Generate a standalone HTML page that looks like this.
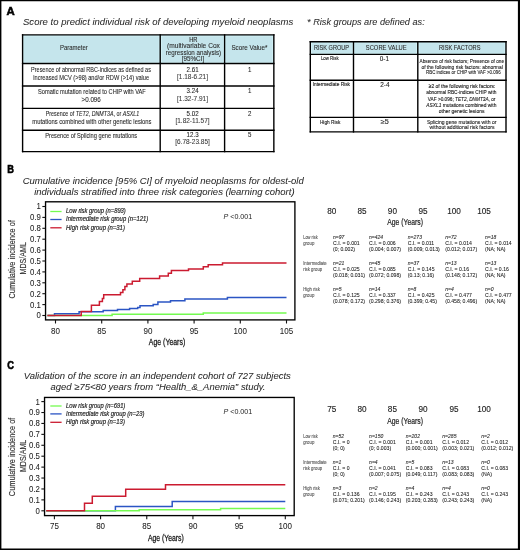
<!DOCTYPE html>
<html><head><meta charset="utf-8"><style>
html,body{margin:0;padding:0;background:#fff;}
body{width:520px;height:550px;overflow:hidden;position:relative;}
svg{position:absolute;left:0;top:0;display:block;will-change:transform;}
text{font-family:"Liberation Sans",sans-serif;}
</style></head><body>
<svg width="520" height="550" viewBox="0 0 520 550">
<rect x="0" y="0" width="520" height="550" fill="#fff"/>
<text x="6.50" y="15.00" font-size="10.2" font-weight="bold" fill="#000" stroke="#000" stroke-width="0.5" textLength="8.20" lengthAdjust="spacingAndGlyphs">A</text>
<text x="7.20" y="173.10" font-size="11" font-weight="bold" fill="#000" stroke="#000" stroke-width="0.55" textLength="6.70" lengthAdjust="spacingAndGlyphs">B</text>
<text x="7.20" y="368.50" font-size="11.5" font-weight="bold" fill="#000" stroke="#000" stroke-width="0.6" textLength="6.70" lengthAdjust="spacingAndGlyphs">C</text>
<text x="23.00" y="25.20" font-size="9.3" font-style="italic" fill="#2a2a2a" stroke="#2a2a2a" stroke-width="0.05" textLength="270.30" lengthAdjust="spacingAndGlyphs">Score to predict individual risk of developing myeloid neoplasms</text>
<text x="307.10" y="25.10" font-size="9.3" font-style="italic" fill="#2a2a2a" stroke="#2a2a2a" stroke-width="0.05" textLength="117.60" lengthAdjust="spacingAndGlyphs">* Risk groups are defined as:</text>
<rect x="22.6" y="34.9" width="251.25000000000003" height="28.6" fill="#c5e5ec"/>
<rect x="23.70" y="36.00" width="135.40" height="26.40" fill="none" stroke="#d8f6fa" stroke-width="0.7"/>
<rect x="161.30" y="36.00" width="62.20" height="26.40" fill="none" stroke="#d8f6fa" stroke-width="0.7"/>
<rect x="225.70" y="36.00" width="47.05" height="26.40" fill="none" stroke="#d8f6fa" stroke-width="0.7"/>
<line x1="22.6" y1="34.199999999999996" x2="22.6" y2="152.29999999999998" stroke="#000" stroke-width="1.4"/>
<line x1="160.2" y1="34.199999999999996" x2="160.2" y2="152.29999999999998" stroke="#000" stroke-width="1.4"/>
<line x1="224.6" y1="34.199999999999996" x2="224.6" y2="152.29999999999998" stroke="#000" stroke-width="1.4"/>
<line x1="273.85" y1="34.199999999999996" x2="273.85" y2="152.29999999999998" stroke="#000" stroke-width="1.4"/>
<line x1="21.900000000000002" y1="34.9" x2="274.55" y2="34.9" stroke="#000" stroke-width="1.4"/>
<line x1="21.900000000000002" y1="63.5" x2="274.55" y2="63.5" stroke="#000" stroke-width="1.4"/>
<line x1="21.900000000000002" y1="86.0" x2="274.55" y2="86.0" stroke="#000" stroke-width="1.4"/>
<line x1="21.900000000000002" y1="108.4" x2="274.55" y2="108.4" stroke="#000" stroke-width="1.4"/>
<line x1="21.900000000000002" y1="130.3" x2="274.55" y2="130.3" stroke="#000" stroke-width="1.4"/>
<line x1="21.900000000000002" y1="151.6" x2="274.55" y2="151.6" stroke="#000" stroke-width="1.4"/>
<text x="59.90" y="50.30" font-size="6.8" fill="#2a2a2a" stroke="#2a2a2a" stroke-width="0.08" textLength="27.90" lengthAdjust="spacingAndGlyphs">Parameter</text>
<text x="189.20" y="41.90" font-size="6.4" fill="#2a2a2a" stroke="#2a2a2a" stroke-width="0.12" textLength="8.30" lengthAdjust="spacingAndGlyphs">HR</text>
<text x="167.00" y="48.10" font-size="6.5" fill="#2a2a2a" stroke="#2a2a2a" stroke-width="0.08" textLength="52.90" lengthAdjust="spacingAndGlyphs">(multivariable Cox</text>
<text x="165.80" y="54.60" font-size="6.5" fill="#2a2a2a" stroke="#2a2a2a" stroke-width="0.08" textLength="55.30" lengthAdjust="spacingAndGlyphs">regression analysis)</text>
<text x="181.70" y="60.90" font-size="6.5" fill="#2a2a2a" stroke="#2a2a2a" stroke-width="0.08" textLength="22.50" lengthAdjust="spacingAndGlyphs">[95%CI]</text>
<text x="231.40" y="50.40" font-size="6.6" fill="#2a2a2a" stroke="#2a2a2a" stroke-width="0.08" textLength="36.10" lengthAdjust="spacingAndGlyphs">Score Value*</text>
<text x="31.10" y="71.80" font-size="7.4" fill="#1e1e1e" stroke="#1e1e1e" stroke-width="0.08" textLength="119.80" lengthAdjust="spacingAndGlyphs">Presence of abnormal RBC-indices as defined as</text>
<text x="33.30" y="79.90" font-size="7.4" fill="#1e1e1e" stroke="#1e1e1e" stroke-width="0.08" textLength="115.80" lengthAdjust="spacingAndGlyphs">increased MCV (&gt;98) and/or RDW (&gt;14) value</text>
<text x="38.00" y="93.80" font-size="7.4" fill="#1e1e1e" stroke="#1e1e1e" stroke-width="0.08" textLength="107.80" lengthAdjust="spacingAndGlyphs">Somatic mutation related to CHIP with VAF</text>
<text x="81.60" y="101.80" font-size="7.4" fill="#1e1e1e" stroke="#1e1e1e" stroke-width="0.08" textLength="19.20" lengthAdjust="spacingAndGlyphs">&gt;0.096</text>
<text x="45.80" y="115.80" font-size="7.4" fill="#1e1e1e" stroke="#1e1e1e" stroke-width="0.08" textLength="93.50" lengthAdjust="spacingAndGlyphs">Presence of <tspan font-style="italic">TET2</tspan>, <tspan font-style="italic">DNMT3A</tspan>, or <tspan font-style="italic">ASXL1</tspan></text>
<text x="32.30" y="124.30" font-size="7.4" fill="#1e1e1e" stroke="#1e1e1e" stroke-width="0.08" textLength="119.20" lengthAdjust="spacingAndGlyphs">mutations combined with other genetic lesions</text>
<text x="45.30" y="137.60" font-size="7.4" fill="#1e1e1e" stroke="#1e1e1e" stroke-width="0.08" textLength="91.90" lengthAdjust="spacingAndGlyphs">Presence of Splicing gene mutations</text>
<text x="186.60" y="72.00" font-size="6.7" fill="#1e1e1e" stroke="#1e1e1e" stroke-width="0.08" textLength="12.00" lengthAdjust="spacingAndGlyphs">2.61</text>
<text x="186.60" y="93.00" font-size="6.7" fill="#1e1e1e" stroke="#1e1e1e" stroke-width="0.08" textLength="12.00" lengthAdjust="spacingAndGlyphs">3.24</text>
<text x="186.60" y="116.00" font-size="6.7" fill="#1e1e1e" stroke="#1e1e1e" stroke-width="0.08" textLength="12.00" lengthAdjust="spacingAndGlyphs">5.02</text>
<text x="186.60" y="137.10" font-size="6.7" fill="#1e1e1e" stroke="#1e1e1e" stroke-width="0.08" textLength="12.00" lengthAdjust="spacingAndGlyphs">12.3</text>
<text x="176.99" y="79.30" font-size="6.9" fill="#3a3a3a" stroke="#3a3a3a" stroke-width="0.08" textLength="31.01" lengthAdjust="spacingAndGlyphs">[1.18-6.21]</text>
<text x="176.99" y="101.00" font-size="6.9" fill="#3a3a3a" stroke="#3a3a3a" stroke-width="0.08" textLength="31.01" lengthAdjust="spacingAndGlyphs">[1.32-7.91]</text>
<text x="175.43" y="122.80" font-size="6.9" fill="#3a3a3a" stroke="#3a3a3a" stroke-width="0.08" textLength="34.14" lengthAdjust="spacingAndGlyphs">[1.82-11.57]</text>
<text x="175.19" y="144.20" font-size="6.9" fill="#3a3a3a" stroke="#3a3a3a" stroke-width="0.08" textLength="34.62" lengthAdjust="spacingAndGlyphs">[6.78-23.85]</text>
<text x="247.89" y="72.00" font-size="6.7" fill="#1e1e1e" stroke="#1e1e1e" stroke-width="0.08" textLength="3.43" lengthAdjust="spacingAndGlyphs">1</text>
<text x="247.89" y="93.00" font-size="6.7" fill="#1e1e1e" stroke="#1e1e1e" stroke-width="0.08" textLength="3.43" lengthAdjust="spacingAndGlyphs">1</text>
<text x="247.89" y="116.00" font-size="6.7" fill="#1e1e1e" stroke="#1e1e1e" stroke-width="0.08" textLength="3.43" lengthAdjust="spacingAndGlyphs">2</text>
<text x="247.89" y="137.10" font-size="6.7" fill="#1e1e1e" stroke="#1e1e1e" stroke-width="0.08" textLength="3.43" lengthAdjust="spacingAndGlyphs">5</text>
<rect x="310.3" y="41.7" width="195.7" height="12.699999999999996" fill="#c5e5ec"/>
<rect x="311.40" y="42.80" width="41.00" height="10.50" fill="none" stroke="#d8f6fa" stroke-width="0.7"/>
<rect x="354.60" y="42.80" width="62.10" height="10.50" fill="none" stroke="#d8f6fa" stroke-width="0.7"/>
<rect x="418.90" y="42.80" width="86.00" height="10.50" fill="none" stroke="#d8f6fa" stroke-width="0.7"/>
<line x1="310.3" y1="41.0" x2="310.3" y2="132.6" stroke="#000" stroke-width="1.4"/>
<line x1="353.5" y1="41.0" x2="353.5" y2="132.6" stroke="#000" stroke-width="1.4"/>
<line x1="417.8" y1="41.0" x2="417.8" y2="132.6" stroke="#000" stroke-width="1.4"/>
<line x1="506.0" y1="41.0" x2="506.0" y2="132.6" stroke="#000" stroke-width="1.4"/>
<line x1="309.6" y1="41.7" x2="506.7" y2="41.7" stroke="#000" stroke-width="1.4"/>
<line x1="309.6" y1="54.4" x2="506.7" y2="54.4" stroke="#000" stroke-width="1.4"/>
<line x1="309.6" y1="80.2" x2="506.7" y2="80.2" stroke="#000" stroke-width="1.4"/>
<line x1="309.6" y1="117.4" x2="506.7" y2="117.4" stroke="#000" stroke-width="1.4"/>
<line x1="309.6" y1="131.9" x2="506.7" y2="131.9" stroke="#000" stroke-width="1.4"/>
<text x="314.00" y="50.30" font-size="6.7" fill="#2a2a2a" stroke="#2a2a2a" stroke-width="0.08" textLength="35.00" lengthAdjust="spacingAndGlyphs">RISK GROUP</text>
<text x="365.80" y="50.30" font-size="6.7" fill="#2a2a2a" stroke="#2a2a2a" stroke-width="0.08" textLength="40.90" lengthAdjust="spacingAndGlyphs">SCORE VALUE</text>
<text x="439.00" y="50.30" font-size="6.7" fill="#2a2a2a" stroke="#2a2a2a" stroke-width="0.08" textLength="41.50" lengthAdjust="spacingAndGlyphs">RISK FACTORS</text>
<text x="320.90" y="60.00" font-size="6.0" fill="#1e1e1e" stroke="#1e1e1e" stroke-width="0.15" textLength="17.70" lengthAdjust="spacingAndGlyphs">Low Risk</text>
<text x="379.80" y="60.60" font-size="6.6" fill="#1e1e1e" stroke="#1e1e1e" stroke-width="0.1" textLength="9.20" lengthAdjust="spacingAndGlyphs">0-1</text>
<text x="419.60" y="63.00" font-size="6.1" fill="#1e1e1e" stroke="#1e1e1e" stroke-width="0.12" textLength="84.40" lengthAdjust="spacingAndGlyphs">Absence of risk factors; Presence of one</text>
<text x="421.40" y="68.60" font-size="6.1" fill="#1e1e1e" stroke="#1e1e1e" stroke-width="0.12" textLength="81.40" lengthAdjust="spacingAndGlyphs">of the following risk factors: abnormal</text>
<text x="426.00" y="74.20" font-size="6.1" fill="#1e1e1e" stroke="#1e1e1e" stroke-width="0.12" textLength="74.60" lengthAdjust="spacingAndGlyphs">RBC indices or CHIP with VAF &gt;0.096</text>
<text x="312.70" y="86.20" font-size="6.0" fill="#1e1e1e" stroke="#1e1e1e" stroke-width="0.15" textLength="37.30" lengthAdjust="spacingAndGlyphs">Intermediate Risk</text>
<text x="380.20" y="86.60" font-size="6.6" fill="#1e1e1e" stroke="#1e1e1e" stroke-width="0.1" textLength="9.30" lengthAdjust="spacingAndGlyphs">2-4</text>
<text x="428.70" y="88.30" font-size="6.1" fill="#1e1e1e" stroke="#1e1e1e" stroke-width="0.14" textLength="66.70" lengthAdjust="spacingAndGlyphs">≥2 of the following risk factors:</text>
<text x="426.30" y="94.40" font-size="6.1" fill="#1e1e1e" stroke="#1e1e1e" stroke-width="0.14" textLength="70.10" lengthAdjust="spacingAndGlyphs">abnormal RBC-indices CHIP with</text>
<text x="427.80" y="100.60" font-size="6.1" fill="#1e1e1e" stroke="#1e1e1e" stroke-width="0.14" textLength="67.60" lengthAdjust="spacingAndGlyphs">VAF &gt;0.096; <tspan font-style="italic">TET2</tspan>, <tspan font-style="italic">DNMT3A</tspan>, or</text>
<text x="426.30" y="107.00" font-size="6.1" fill="#1e1e1e" stroke="#1e1e1e" stroke-width="0.14" textLength="70.10" lengthAdjust="spacingAndGlyphs"><tspan font-style="italic">ASXL1</tspan> mutations combined with</text>
<text x="438.80" y="113.00" font-size="6.1" fill="#1e1e1e" stroke="#1e1e1e" stroke-width="0.14" textLength="45.70" lengthAdjust="spacingAndGlyphs">other genetic lesions</text>
<text x="319.90" y="123.70" font-size="6.0" fill="#1e1e1e" stroke="#1e1e1e" stroke-width="0.15" textLength="20.40" lengthAdjust="spacingAndGlyphs">High Risk</text>
<text x="380.80" y="124.00" font-size="6.6" fill="#1e1e1e" stroke="#1e1e1e" stroke-width="0.1" textLength="8.00" lengthAdjust="spacingAndGlyphs">≥5</text>
<text x="426.90" y="123.60" font-size="6.1" fill="#1e1e1e" stroke="#1e1e1e" stroke-width="0.12" textLength="69.50" lengthAdjust="spacingAndGlyphs">Splicing gene mutations with or</text>
<text x="429.60" y="129.20" font-size="6.1" fill="#1e1e1e" stroke="#1e1e1e" stroke-width="0.12" textLength="64.90" lengthAdjust="spacingAndGlyphs">without additional risk factors</text>
<text x="22.70" y="183.50" font-size="9.3" font-style="italic" fill="#2a2a2a" stroke="#2a2a2a" stroke-width="0.05" textLength="281.00" lengthAdjust="spacingAndGlyphs">Cumulative incidence [95% CI] of myeloid neoplasms for oldest-old</text>
<text x="34.20" y="194.80" font-size="9.3" font-style="italic" fill="#2a2a2a" stroke="#2a2a2a" stroke-width="0.05" textLength="260.40" lengthAdjust="spacingAndGlyphs">individuals stratified into three risk categories (learning cohort)</text>
<path d="M47.40 315.50 L54.50 315.50 L54.50 313.80 L79.10 313.80 L79.10 311.80 L103.20 311.80 L103.20 310.50 L117.50 310.50 L117.50 309.50 L129.60 309.50 L129.60 308.40 L137.70 308.40 L137.70 307.50 L140.00 307.50 L140.00 305.70 L153.20 305.70 L153.20 304.50 L157.90 304.50 L157.90 302.10 L170.50 302.10 L170.50 300.80 L184.90 300.80 L184.90 299.10 L227.40 299.10 L227.40 297.40 L286.50 297.40" fill="none" stroke="#2b55c4" stroke-width="1.5" stroke-linejoin="miter"/>
<path d="M47.40 315.50 L112.10 315.50 L112.10 314.20 L203.30 314.20 L203.30 312.90 L286.50 312.90" fill="none" stroke="#74fb50" stroke-width="1.5" stroke-linejoin="miter"/>
<path d="M47.40 315.50 L81.20 315.50 L81.20 311.50 L91.40 311.50 L91.40 305.20 L99.40 305.20 L99.40 301.40 L102.40 301.40 L102.40 298.40 L103.70 298.40 L103.70 294.70 L120.50 294.70 L120.50 292.40 L122.90 292.40 L122.90 289.70 L124.90 289.70 L124.90 286.60 L126.90 286.60 L126.90 283.90 L132.30 283.90 L132.30 281.20 L139.70 281.20 L139.70 278.60 L159.60 278.60 L159.60 275.90 L168.30 275.90 L168.30 273.20 L171.40 273.20 L171.40 270.50 L188.50 270.50 L188.50 269.10 L203.30 269.10 L203.30 266.70 L208.20 266.70 L208.20 264.70 L222.50 264.70 L222.50 263.10 L286.50 263.10" fill="none" stroke="#cb1b30" stroke-width="1.5" stroke-linejoin="miter"/>
<rect x="45.55" y="201.8" width="249.34999999999997" height="118.09999999999997" fill="none" stroke="#000" stroke-width="1.35"/>
<line x1="42.349999999999994" y1="315.5" x2="45.55" y2="315.5" stroke="#111" stroke-width="1.1"/>
<text x="36.61" y="318.45" font-size="8.4" fill="#222" stroke="#222" stroke-width="0.05" textLength="4.34" lengthAdjust="spacingAndGlyphs">0</text>
<line x1="42.349999999999994" y1="304.6" x2="45.55" y2="304.6" stroke="#111" stroke-width="1.1"/>
<text x="30.09" y="307.55" font-size="8.4" fill="#222" stroke="#222" stroke-width="0.05" textLength="10.86" lengthAdjust="spacingAndGlyphs">0.1</text>
<line x1="42.349999999999994" y1="293.7" x2="45.55" y2="293.7" stroke="#111" stroke-width="1.1"/>
<text x="30.09" y="296.65" font-size="8.4" fill="#222" stroke="#222" stroke-width="0.05" textLength="10.86" lengthAdjust="spacingAndGlyphs">0.2</text>
<line x1="42.349999999999994" y1="282.8" x2="45.55" y2="282.8" stroke="#111" stroke-width="1.1"/>
<text x="30.09" y="285.75" font-size="8.4" fill="#222" stroke="#222" stroke-width="0.05" textLength="10.86" lengthAdjust="spacingAndGlyphs">0.3</text>
<line x1="42.349999999999994" y1="271.9" x2="45.55" y2="271.9" stroke="#111" stroke-width="1.1"/>
<text x="30.09" y="274.85" font-size="8.4" fill="#222" stroke="#222" stroke-width="0.05" textLength="10.86" lengthAdjust="spacingAndGlyphs">0.4</text>
<line x1="42.349999999999994" y1="261.0" x2="45.55" y2="261.0" stroke="#111" stroke-width="1.1"/>
<text x="30.09" y="263.95" font-size="8.4" fill="#222" stroke="#222" stroke-width="0.05" textLength="10.86" lengthAdjust="spacingAndGlyphs">0.5</text>
<line x1="42.349999999999994" y1="250.1" x2="45.55" y2="250.1" stroke="#111" stroke-width="1.1"/>
<text x="30.09" y="253.05" font-size="8.4" fill="#222" stroke="#222" stroke-width="0.05" textLength="10.86" lengthAdjust="spacingAndGlyphs">0.6</text>
<line x1="42.349999999999994" y1="239.2" x2="45.55" y2="239.2" stroke="#111" stroke-width="1.1"/>
<text x="30.09" y="242.15" font-size="8.4" fill="#222" stroke="#222" stroke-width="0.05" textLength="10.86" lengthAdjust="spacingAndGlyphs">0.7</text>
<line x1="42.349999999999994" y1="228.3" x2="45.55" y2="228.3" stroke="#111" stroke-width="1.1"/>
<text x="30.09" y="231.25" font-size="8.4" fill="#222" stroke="#222" stroke-width="0.05" textLength="10.86" lengthAdjust="spacingAndGlyphs">0.8</text>
<line x1="42.349999999999994" y1="217.39999999999998" x2="45.55" y2="217.39999999999998" stroke="#111" stroke-width="1.1"/>
<text x="30.09" y="220.35" font-size="8.4" fill="#222" stroke="#222" stroke-width="0.05" textLength="10.86" lengthAdjust="spacingAndGlyphs">0.9</text>
<line x1="42.349999999999994" y1="206.5" x2="45.55" y2="206.5" stroke="#111" stroke-width="1.1"/>
<text x="36.61" y="209.45" font-size="8.4" fill="#222" stroke="#222" stroke-width="0.05" textLength="4.34" lengthAdjust="spacingAndGlyphs">1</text>
<line x1="55.5" y1="319.9" x2="55.5" y2="323.5" stroke="#111" stroke-width="1.1"/>
<text x="51.05" y="333.75" font-size="8.9" fill="#222" stroke="#222" stroke-width="0.05" textLength="8.91" lengthAdjust="spacingAndGlyphs">80</text>
<line x1="101.7" y1="319.9" x2="101.7" y2="323.5" stroke="#111" stroke-width="1.1"/>
<text x="97.25" y="333.75" font-size="8.9" fill="#222" stroke="#222" stroke-width="0.05" textLength="8.91" lengthAdjust="spacingAndGlyphs">85</text>
<line x1="147.9" y1="319.9" x2="147.9" y2="323.5" stroke="#111" stroke-width="1.1"/>
<text x="143.45" y="333.75" font-size="8.9" fill="#222" stroke="#222" stroke-width="0.05" textLength="8.91" lengthAdjust="spacingAndGlyphs">90</text>
<line x1="194.1" y1="319.9" x2="194.1" y2="323.5" stroke="#111" stroke-width="1.1"/>
<text x="189.65" y="333.75" font-size="8.9" fill="#222" stroke="#222" stroke-width="0.05" textLength="8.91" lengthAdjust="spacingAndGlyphs">95</text>
<line x1="240.3" y1="319.9" x2="240.3" y2="323.5" stroke="#111" stroke-width="1.1"/>
<text x="233.62" y="333.75" font-size="8.9" fill="#222" stroke="#222" stroke-width="0.05" textLength="13.36" lengthAdjust="spacingAndGlyphs">100</text>
<line x1="286.5" y1="319.9" x2="286.5" y2="323.5" stroke="#111" stroke-width="1.1"/>
<text x="279.82" y="333.75" font-size="8.9" fill="#222" stroke="#222" stroke-width="0.05" textLength="13.36" lengthAdjust="spacingAndGlyphs">105</text>
<text x="148.80" y="345.00" font-size="9.3" fill="#1a1a1a" stroke="#1a1a1a" stroke-width="0.3" textLength="36.40" lengthAdjust="spacingAndGlyphs">Age (Years)</text>
<line x1="50.3" y1="211.5" x2="61.6" y2="211.5" stroke="#74fb50" stroke-width="1.3"/>
<text x="66.10" y="213.40" font-size="7.5" font-style="italic" fill="#222" stroke="#222" stroke-width="0.2" textLength="59.70" lengthAdjust="spacingAndGlyphs">Low risk group (n=893)</text>
<line x1="50.3" y1="219.5" x2="61.6" y2="219.5" stroke="#2b55c4" stroke-width="1.3"/>
<text x="66.10" y="221.40" font-size="7.5" font-style="italic" fill="#222" stroke="#222" stroke-width="0.2" textLength="82.10" lengthAdjust="spacingAndGlyphs">Intermediate risk group (n=121)</text>
<line x1="50.3" y1="227.8" x2="61.6" y2="227.8" stroke="#cb1b30" stroke-width="1.3"/>
<text x="66.10" y="229.70" font-size="7.5" font-style="italic" fill="#222" stroke="#222" stroke-width="0.2" textLength="58.80" lengthAdjust="spacingAndGlyphs">High risk group (n=31)</text>
<text x="223.5" y="218.8" font-size="7" fill="#222" textLength="28.8" lengthAdjust="spacingAndGlyphs"><tspan font-style="italic">P</tspan> &lt;0.001</text>
<g transform="translate(15.0,259.3) rotate(-90)"><text x="0" y="0" font-size="9.8" fill="#333" stroke="#333" stroke-width="0.15" text-anchor="middle" textLength="78.5" lengthAdjust="spacingAndGlyphs">Cumulative incidence of</text></g>
<g transform="translate(25.8,258.3) rotate(-90)"><text x="0" y="0" font-size="9.4" fill="#333" stroke="#333" stroke-width="0.15" text-anchor="middle" textLength="32.4" lengthAdjust="spacingAndGlyphs">MDS/AML</text></g>
<text x="23.70" y="378.90" font-size="9.3" font-style="italic" fill="#2a2a2a" stroke="#2a2a2a" stroke-width="0.05" textLength="267.10" lengthAdjust="spacingAndGlyphs">Validation of the score in an independent cohort of 727 subjects</text>
<text x="50.60" y="390.00" font-size="9.3" font-style="italic" fill="#2a2a2a" stroke="#2a2a2a" stroke-width="0.05" textLength="214.80" lengthAdjust="spacingAndGlyphs">aged ≥75&lt;80 years from “Health_&amp;_Anemia” study.</text>
<path d="M46.20 510.80 L115.40 510.80 L115.40 506.40 L172.20 506.40 L172.20 501.60 L285.30 501.60" fill="none" stroke="#2b55c4" stroke-width="1.5" stroke-linejoin="miter"/>
<path d="M46.20 510.80 L139.20 510.80 L139.20 509.70 L220.60 509.70 L220.60 508.50 L285.30 508.50" fill="none" stroke="#74fb50" stroke-width="1.5" stroke-linejoin="miter"/>
<path d="M46.20 510.80 L84.50 510.80 L84.50 503.20 L92.30 503.20 L92.30 496.30 L125.70 496.30 L125.70 489.30 L165.50 489.30 L165.50 484.70 L285.30 484.70" fill="none" stroke="#cb1b30" stroke-width="1.5" stroke-linejoin="miter"/>
<rect x="44.55" y="397.45" width="249.64999999999998" height="118.15000000000003" fill="none" stroke="#000" stroke-width="1.35"/>
<line x1="41.349999999999994" y1="510.8" x2="44.55" y2="510.8" stroke="#111" stroke-width="1.1"/>
<text x="35.61" y="513.75" font-size="8.4" fill="#222" stroke="#222" stroke-width="0.05" textLength="4.34" lengthAdjust="spacingAndGlyphs">0</text>
<line x1="41.349999999999994" y1="499.88" x2="44.55" y2="499.88" stroke="#111" stroke-width="1.1"/>
<text x="29.09" y="502.83" font-size="8.4" fill="#222" stroke="#222" stroke-width="0.05" textLength="10.86" lengthAdjust="spacingAndGlyphs">0.1</text>
<line x1="41.349999999999994" y1="488.96000000000004" x2="44.55" y2="488.96000000000004" stroke="#111" stroke-width="1.1"/>
<text x="29.09" y="491.91" font-size="8.4" fill="#222" stroke="#222" stroke-width="0.05" textLength="10.86" lengthAdjust="spacingAndGlyphs">0.2</text>
<line x1="41.349999999999994" y1="478.04" x2="44.55" y2="478.04" stroke="#111" stroke-width="1.1"/>
<text x="29.09" y="480.99" font-size="8.4" fill="#222" stroke="#222" stroke-width="0.05" textLength="10.86" lengthAdjust="spacingAndGlyphs">0.3</text>
<line x1="41.349999999999994" y1="467.12" x2="44.55" y2="467.12" stroke="#111" stroke-width="1.1"/>
<text x="29.09" y="470.07" font-size="8.4" fill="#222" stroke="#222" stroke-width="0.05" textLength="10.86" lengthAdjust="spacingAndGlyphs">0.4</text>
<line x1="41.349999999999994" y1="456.2" x2="44.55" y2="456.2" stroke="#111" stroke-width="1.1"/>
<text x="29.09" y="459.15" font-size="8.4" fill="#222" stroke="#222" stroke-width="0.05" textLength="10.86" lengthAdjust="spacingAndGlyphs">0.5</text>
<line x1="41.349999999999994" y1="445.28000000000003" x2="44.55" y2="445.28000000000003" stroke="#111" stroke-width="1.1"/>
<text x="29.09" y="448.23" font-size="8.4" fill="#222" stroke="#222" stroke-width="0.05" textLength="10.86" lengthAdjust="spacingAndGlyphs">0.6</text>
<line x1="41.349999999999994" y1="434.36" x2="44.55" y2="434.36" stroke="#111" stroke-width="1.1"/>
<text x="29.09" y="437.31" font-size="8.4" fill="#222" stroke="#222" stroke-width="0.05" textLength="10.86" lengthAdjust="spacingAndGlyphs">0.7</text>
<line x1="41.349999999999994" y1="423.44" x2="44.55" y2="423.44" stroke="#111" stroke-width="1.1"/>
<text x="29.09" y="426.39" font-size="8.4" fill="#222" stroke="#222" stroke-width="0.05" textLength="10.86" lengthAdjust="spacingAndGlyphs">0.8</text>
<line x1="41.349999999999994" y1="412.52" x2="44.55" y2="412.52" stroke="#111" stroke-width="1.1"/>
<text x="29.09" y="415.47" font-size="8.4" fill="#222" stroke="#222" stroke-width="0.05" textLength="10.86" lengthAdjust="spacingAndGlyphs">0.9</text>
<line x1="41.349999999999994" y1="401.6" x2="44.55" y2="401.6" stroke="#111" stroke-width="1.1"/>
<text x="35.61" y="404.55" font-size="8.4" fill="#222" stroke="#222" stroke-width="0.05" textLength="4.34" lengthAdjust="spacingAndGlyphs">1</text>
<line x1="54.4" y1="515.6" x2="54.4" y2="519.2" stroke="#111" stroke-width="1.1"/>
<text x="49.95" y="529.45" font-size="8.9" fill="#222" stroke="#222" stroke-width="0.05" textLength="8.91" lengthAdjust="spacingAndGlyphs">75</text>
<line x1="100.58000000000001" y1="515.6" x2="100.58000000000001" y2="519.2" stroke="#111" stroke-width="1.1"/>
<text x="96.13" y="529.45" font-size="8.9" fill="#222" stroke="#222" stroke-width="0.05" textLength="8.91" lengthAdjust="spacingAndGlyphs">80</text>
<line x1="146.76000000000002" y1="515.6" x2="146.76000000000002" y2="519.2" stroke="#111" stroke-width="1.1"/>
<text x="142.31" y="529.45" font-size="8.9" fill="#222" stroke="#222" stroke-width="0.05" textLength="8.91" lengthAdjust="spacingAndGlyphs">85</text>
<line x1="192.94000000000003" y1="515.6" x2="192.94000000000003" y2="519.2" stroke="#111" stroke-width="1.1"/>
<text x="188.49" y="529.45" font-size="8.9" fill="#222" stroke="#222" stroke-width="0.05" textLength="8.91" lengthAdjust="spacingAndGlyphs">90</text>
<line x1="239.12000000000003" y1="515.6" x2="239.12000000000003" y2="519.2" stroke="#111" stroke-width="1.1"/>
<text x="234.67" y="529.45" font-size="8.9" fill="#222" stroke="#222" stroke-width="0.05" textLength="8.91" lengthAdjust="spacingAndGlyphs">95</text>
<line x1="285.3" y1="515.6" x2="285.3" y2="519.2" stroke="#111" stroke-width="1.1"/>
<text x="278.62" y="529.45" font-size="8.9" fill="#222" stroke="#222" stroke-width="0.05" textLength="13.36" lengthAdjust="spacingAndGlyphs">100</text>
<text x="147.90" y="540.70" font-size="9.3" fill="#1a1a1a" stroke="#1a1a1a" stroke-width="0.3" textLength="35.90" lengthAdjust="spacingAndGlyphs">Age (Years)</text>
<line x1="50.3" y1="406.0" x2="61.6" y2="406.0" stroke="#74fb50" stroke-width="1.3"/>
<text x="66.10" y="407.90" font-size="7.5" font-style="italic" fill="#222" stroke="#222" stroke-width="0.2" textLength="59.20" lengthAdjust="spacingAndGlyphs">Low risk group (n=691)</text>
<line x1="50.3" y1="413.9" x2="61.6" y2="413.9" stroke="#2b55c4" stroke-width="1.3"/>
<text x="66.10" y="415.80" font-size="7.5" font-style="italic" fill="#222" stroke="#222" stroke-width="0.2" textLength="78.30" lengthAdjust="spacingAndGlyphs">Intermediate risk group (n=23)</text>
<line x1="50.3" y1="422.3" x2="61.6" y2="422.3" stroke="#cb1b30" stroke-width="1.3"/>
<text x="66.10" y="424.20" font-size="7.5" font-style="italic" fill="#222" stroke="#222" stroke-width="0.2" textLength="58.80" lengthAdjust="spacingAndGlyphs">High risk group (n=13)</text>
<text x="223.5" y="414.45" font-size="7" fill="#222" textLength="28.8" lengthAdjust="spacingAndGlyphs"><tspan font-style="italic">P</tspan> &lt;0.001</text>
<g transform="translate(15.0,456.9) rotate(-90)"><text x="0" y="0" font-size="9.8" fill="#333" stroke="#333" stroke-width="0.15" text-anchor="middle" textLength="78.5" lengthAdjust="spacingAndGlyphs">Cumulative incidence of</text></g>
<g transform="translate(25.8,455.9) rotate(-90)"><text x="0" y="0" font-size="9.4" fill="#333" stroke="#333" stroke-width="0.15" text-anchor="middle" textLength="32.4" lengthAdjust="spacingAndGlyphs">MDS/AML</text></g>
<text x="327.24" y="213.90" font-size="8.2" fill="#222" stroke="#222" stroke-width="0.12" textLength="9.12" lengthAdjust="spacingAndGlyphs">80</text>
<text x="357.44" y="213.90" font-size="8.2" fill="#222" stroke="#222" stroke-width="0.12" textLength="9.12" lengthAdjust="spacingAndGlyphs">85</text>
<text x="387.84" y="213.90" font-size="8.2" fill="#222" stroke="#222" stroke-width="0.12" textLength="9.12" lengthAdjust="spacingAndGlyphs">90</text>
<text x="418.44" y="213.90" font-size="8.2" fill="#222" stroke="#222" stroke-width="0.12" textLength="9.12" lengthAdjust="spacingAndGlyphs">95</text>
<text x="447.16" y="213.90" font-size="8.2" fill="#222" stroke="#222" stroke-width="0.12" textLength="13.68" lengthAdjust="spacingAndGlyphs">100</text>
<text x="477.16" y="213.90" font-size="8.2" fill="#222" stroke="#222" stroke-width="0.12" textLength="13.68" lengthAdjust="spacingAndGlyphs">105</text>
<text x="387.30" y="225.40" font-size="9.2" fill="#222" stroke="#222" stroke-width="0.22" textLength="35.70" lengthAdjust="spacingAndGlyphs">Age (Years)</text>
<text x="303.20" y="238.50" font-size="5.0" fill="#5a5a5a" stroke="#5a5a5a" stroke-width="0.12" textLength="14.50" lengthAdjust="spacingAndGlyphs">Low risk</text>
<text x="303.20" y="244.50" font-size="5.0" fill="#5a5a5a" stroke="#5a5a5a" stroke-width="0.12" textLength="11.20" lengthAdjust="spacingAndGlyphs">group</text>
<text x="333.00" y="238.50" font-size="5.3" font-style="italic" fill="#1e1e1e" stroke="#1e1e1e" stroke-width="0.08" textLength="11.34" lengthAdjust="spacingAndGlyphs">n=97</text>
<text x="333.00" y="244.75" font-size="5.3" fill="#1e1e1e" stroke="#1e1e1e" stroke-width="0.08" textLength="26.72" lengthAdjust="spacingAndGlyphs">C.I. = 0.001</text>
<text x="333.00" y="250.90" font-size="5.3" fill="#1e1e1e" stroke="#1e1e1e" stroke-width="0.08" textLength="22.01" lengthAdjust="spacingAndGlyphs">(0; 0.002)</text>
<text x="369.00" y="238.50" font-size="5.3" font-style="italic" fill="#1e1e1e" stroke="#1e1e1e" stroke-width="0.08" textLength="14.14" lengthAdjust="spacingAndGlyphs">n=424</text>
<text x="369.00" y="244.75" font-size="5.3" fill="#1e1e1e" stroke="#1e1e1e" stroke-width="0.08" textLength="26.72" lengthAdjust="spacingAndGlyphs">C.I. = 0.006</text>
<text x="369.00" y="250.90" font-size="5.3" fill="#1e1e1e" stroke="#1e1e1e" stroke-width="0.08" textLength="32.01" lengthAdjust="spacingAndGlyphs">(0.004; 0.007)</text>
<text x="407.80" y="238.50" font-size="5.3" font-style="italic" fill="#1e1e1e" stroke="#1e1e1e" stroke-width="0.08" textLength="14.14" lengthAdjust="spacingAndGlyphs">n=273</text>
<text x="407.80" y="244.75" font-size="5.3" fill="#1e1e1e" stroke="#1e1e1e" stroke-width="0.08" textLength="26.34" lengthAdjust="spacingAndGlyphs">C.I. = 0.011</text>
<text x="407.80" y="250.90" font-size="5.3" fill="#1e1e1e" stroke="#1e1e1e" stroke-width="0.08" textLength="32.01" lengthAdjust="spacingAndGlyphs">(0.009; 0.013)</text>
<text x="445.20" y="238.50" font-size="5.3" font-style="italic" fill="#1e1e1e" stroke="#1e1e1e" stroke-width="0.08" textLength="11.34" lengthAdjust="spacingAndGlyphs">n=72</text>
<text x="445.20" y="244.75" font-size="5.3" fill="#1e1e1e" stroke="#1e1e1e" stroke-width="0.08" textLength="26.72" lengthAdjust="spacingAndGlyphs">C.I. = 0.014</text>
<text x="445.20" y="250.90" font-size="5.3" fill="#1e1e1e" stroke="#1e1e1e" stroke-width="0.08" textLength="32.01" lengthAdjust="spacingAndGlyphs">(0.012; 0.017)</text>
<text x="485.00" y="238.50" font-size="5.3" font-style="italic" fill="#1e1e1e" stroke="#1e1e1e" stroke-width="0.08" textLength="11.34" lengthAdjust="spacingAndGlyphs">n=18</text>
<text x="485.00" y="244.75" font-size="5.3" fill="#1e1e1e" stroke="#1e1e1e" stroke-width="0.08" textLength="26.72" lengthAdjust="spacingAndGlyphs">C.I. = 0.014</text>
<text x="485.00" y="250.90" font-size="5.3" fill="#1e1e1e" stroke="#1e1e1e" stroke-width="0.08" textLength="20.56" lengthAdjust="spacingAndGlyphs">(NA; NA)</text>
<text x="303.20" y="264.60" font-size="5.0" fill="#5a5a5a" stroke="#5a5a5a" stroke-width="0.12" textLength="23.50" lengthAdjust="spacingAndGlyphs">Intermediate</text>
<text x="303.20" y="270.60" font-size="5.0" fill="#5a5a5a" stroke="#5a5a5a" stroke-width="0.12" textLength="19.00" lengthAdjust="spacingAndGlyphs">risk group</text>
<text x="333.00" y="264.60" font-size="5.3" font-style="italic" fill="#1e1e1e" stroke="#1e1e1e" stroke-width="0.08" textLength="11.34" lengthAdjust="spacingAndGlyphs">n=21</text>
<text x="333.00" y="270.85" font-size="5.3" fill="#1e1e1e" stroke="#1e1e1e" stroke-width="0.08" textLength="26.72" lengthAdjust="spacingAndGlyphs">C.I. = 0.025</text>
<text x="333.00" y="277.00" font-size="5.3" fill="#1e1e1e" stroke="#1e1e1e" stroke-width="0.08" textLength="32.01" lengthAdjust="spacingAndGlyphs">(0.018; 0.031)</text>
<text x="369.00" y="264.60" font-size="5.3" font-style="italic" fill="#1e1e1e" stroke="#1e1e1e" stroke-width="0.08" textLength="11.34" lengthAdjust="spacingAndGlyphs">n=45</text>
<text x="369.00" y="270.85" font-size="5.3" fill="#1e1e1e" stroke="#1e1e1e" stroke-width="0.08" textLength="26.72" lengthAdjust="spacingAndGlyphs">C.I. = 0.085</text>
<text x="369.00" y="277.00" font-size="5.3" fill="#1e1e1e" stroke="#1e1e1e" stroke-width="0.08" textLength="32.01" lengthAdjust="spacingAndGlyphs">(0.072; 0.098)</text>
<text x="407.80" y="264.60" font-size="5.3" font-style="italic" fill="#1e1e1e" stroke="#1e1e1e" stroke-width="0.08" textLength="11.34" lengthAdjust="spacingAndGlyphs">n=37</text>
<text x="407.80" y="270.85" font-size="5.3" fill="#1e1e1e" stroke="#1e1e1e" stroke-width="0.08" textLength="26.72" lengthAdjust="spacingAndGlyphs">C.I. = 0.145</text>
<text x="407.80" y="277.00" font-size="5.3" fill="#1e1e1e" stroke="#1e1e1e" stroke-width="0.08" textLength="26.29" lengthAdjust="spacingAndGlyphs">(0.13; 0.16)</text>
<text x="445.20" y="264.60" font-size="5.3" font-style="italic" fill="#1e1e1e" stroke="#1e1e1e" stroke-width="0.08" textLength="11.34" lengthAdjust="spacingAndGlyphs">n=13</text>
<text x="445.20" y="270.85" font-size="5.3" fill="#1e1e1e" stroke="#1e1e1e" stroke-width="0.08" textLength="23.86" lengthAdjust="spacingAndGlyphs">C.I. = 0.16</text>
<text x="445.20" y="277.00" font-size="5.3" fill="#1e1e1e" stroke="#1e1e1e" stroke-width="0.08" textLength="32.01" lengthAdjust="spacingAndGlyphs">(0.148; 0.172)</text>
<text x="485.00" y="264.60" font-size="5.3" font-style="italic" fill="#1e1e1e" stroke="#1e1e1e" stroke-width="0.08" textLength="11.34" lengthAdjust="spacingAndGlyphs">n=13</text>
<text x="485.00" y="270.85" font-size="5.3" fill="#1e1e1e" stroke="#1e1e1e" stroke-width="0.08" textLength="23.86" lengthAdjust="spacingAndGlyphs">C.I. = 0.16</text>
<text x="485.00" y="277.00" font-size="5.3" fill="#1e1e1e" stroke="#1e1e1e" stroke-width="0.08" textLength="20.56" lengthAdjust="spacingAndGlyphs">(NA; NA)</text>
<text x="303.20" y="290.60" font-size="5.0" fill="#5a5a5a" stroke="#5a5a5a" stroke-width="0.12" textLength="16.60" lengthAdjust="spacingAndGlyphs">High risk</text>
<text x="303.20" y="296.60" font-size="5.0" fill="#5a5a5a" stroke="#5a5a5a" stroke-width="0.12" textLength="11.20" lengthAdjust="spacingAndGlyphs">group</text>
<text x="333.00" y="290.60" font-size="5.3" font-style="italic" fill="#1e1e1e" stroke="#1e1e1e" stroke-width="0.08" textLength="8.54" lengthAdjust="spacingAndGlyphs">n=5</text>
<text x="333.00" y="296.85" font-size="5.3" fill="#1e1e1e" stroke="#1e1e1e" stroke-width="0.08" textLength="26.72" lengthAdjust="spacingAndGlyphs">C.I. = 0.125</text>
<text x="333.00" y="303.00" font-size="5.3" fill="#1e1e1e" stroke="#1e1e1e" stroke-width="0.08" textLength="32.01" lengthAdjust="spacingAndGlyphs">(0.078; 0.172)</text>
<text x="369.00" y="290.60" font-size="5.3" font-style="italic" fill="#1e1e1e" stroke="#1e1e1e" stroke-width="0.08" textLength="11.34" lengthAdjust="spacingAndGlyphs">n=14</text>
<text x="369.00" y="296.85" font-size="5.3" fill="#1e1e1e" stroke="#1e1e1e" stroke-width="0.08" textLength="26.72" lengthAdjust="spacingAndGlyphs">C.I. = 0.337</text>
<text x="369.00" y="303.00" font-size="5.3" fill="#1e1e1e" stroke="#1e1e1e" stroke-width="0.08" textLength="32.01" lengthAdjust="spacingAndGlyphs">(0.298; 0.376)</text>
<text x="407.80" y="290.60" font-size="5.3" font-style="italic" fill="#1e1e1e" stroke="#1e1e1e" stroke-width="0.08" textLength="8.54" lengthAdjust="spacingAndGlyphs">n=8</text>
<text x="407.80" y="296.85" font-size="5.3" fill="#1e1e1e" stroke="#1e1e1e" stroke-width="0.08" textLength="26.72" lengthAdjust="spacingAndGlyphs">C.I. = 0.425</text>
<text x="407.80" y="303.00" font-size="5.3" fill="#1e1e1e" stroke="#1e1e1e" stroke-width="0.08" textLength="29.15" lengthAdjust="spacingAndGlyphs">(0.399; 0.45)</text>
<text x="445.20" y="290.60" font-size="5.3" font-style="italic" fill="#1e1e1e" stroke="#1e1e1e" stroke-width="0.08" textLength="8.54" lengthAdjust="spacingAndGlyphs">n=4</text>
<text x="445.20" y="296.85" font-size="5.3" fill="#1e1e1e" stroke="#1e1e1e" stroke-width="0.08" textLength="26.72" lengthAdjust="spacingAndGlyphs">C.I. = 0.477</text>
<text x="445.20" y="303.00" font-size="5.3" fill="#1e1e1e" stroke="#1e1e1e" stroke-width="0.08" textLength="32.01" lengthAdjust="spacingAndGlyphs">(0.458; 0.496)</text>
<text x="485.00" y="290.60" font-size="5.3" font-style="italic" fill="#1e1e1e" stroke="#1e1e1e" stroke-width="0.08" textLength="8.54" lengthAdjust="spacingAndGlyphs">n=0</text>
<text x="485.00" y="296.85" font-size="5.3" fill="#1e1e1e" stroke="#1e1e1e" stroke-width="0.08" textLength="26.72" lengthAdjust="spacingAndGlyphs">C.I. = 0.477</text>
<text x="485.00" y="303.00" font-size="5.3" fill="#1e1e1e" stroke="#1e1e1e" stroke-width="0.08" textLength="20.56" lengthAdjust="spacingAndGlyphs">(NA; NA)</text>
<text x="327.24" y="412.30" font-size="8.2" fill="#222" stroke="#222" stroke-width="0.12" textLength="9.12" lengthAdjust="spacingAndGlyphs">75</text>
<text x="357.44" y="412.30" font-size="8.2" fill="#222" stroke="#222" stroke-width="0.12" textLength="9.12" lengthAdjust="spacingAndGlyphs">80</text>
<text x="387.84" y="412.30" font-size="8.2" fill="#222" stroke="#222" stroke-width="0.12" textLength="9.12" lengthAdjust="spacingAndGlyphs">85</text>
<text x="418.44" y="412.30" font-size="8.2" fill="#222" stroke="#222" stroke-width="0.12" textLength="9.12" lengthAdjust="spacingAndGlyphs">90</text>
<text x="449.44" y="412.30" font-size="8.2" fill="#222" stroke="#222" stroke-width="0.12" textLength="9.12" lengthAdjust="spacingAndGlyphs">95</text>
<text x="477.16" y="412.30" font-size="8.2" fill="#222" stroke="#222" stroke-width="0.12" textLength="13.68" lengthAdjust="spacingAndGlyphs">100</text>
<text x="387.30" y="423.90" font-size="9.2" fill="#222" stroke="#222" stroke-width="0.22" textLength="35.70" lengthAdjust="spacingAndGlyphs">Age (Years)</text>
<text x="303.20" y="437.50" font-size="5.0" fill="#5a5a5a" stroke="#5a5a5a" stroke-width="0.12" textLength="14.50" lengthAdjust="spacingAndGlyphs">Low risk</text>
<text x="303.20" y="443.50" font-size="5.0" fill="#5a5a5a" stroke="#5a5a5a" stroke-width="0.12" textLength="11.20" lengthAdjust="spacingAndGlyphs">group</text>
<text x="332.80" y="437.50" font-size="5.3" font-style="italic" fill="#1e1e1e" stroke="#1e1e1e" stroke-width="0.08" textLength="11.34" lengthAdjust="spacingAndGlyphs">n=52</text>
<text x="332.80" y="443.75" font-size="5.3" fill="#1e1e1e" stroke="#1e1e1e" stroke-width="0.08" textLength="16.72" lengthAdjust="spacingAndGlyphs">C.I. = 0</text>
<text x="332.80" y="449.90" font-size="5.3" fill="#1e1e1e" stroke="#1e1e1e" stroke-width="0.08" textLength="12.00" lengthAdjust="spacingAndGlyphs">(0; 0)</text>
<text x="369.10" y="437.50" font-size="5.3" font-style="italic" fill="#1e1e1e" stroke="#1e1e1e" stroke-width="0.08" textLength="14.14" lengthAdjust="spacingAndGlyphs">n=150</text>
<text x="369.10" y="443.75" font-size="5.3" fill="#1e1e1e" stroke="#1e1e1e" stroke-width="0.08" textLength="26.72" lengthAdjust="spacingAndGlyphs">C.I. = 0.001</text>
<text x="369.10" y="449.90" font-size="5.3" fill="#1e1e1e" stroke="#1e1e1e" stroke-width="0.08" textLength="22.01" lengthAdjust="spacingAndGlyphs">(0; 0.003)</text>
<text x="405.80" y="437.50" font-size="5.3" font-style="italic" fill="#1e1e1e" stroke="#1e1e1e" stroke-width="0.08" textLength="14.14" lengthAdjust="spacingAndGlyphs">n=202</text>
<text x="405.80" y="443.75" font-size="5.3" fill="#1e1e1e" stroke="#1e1e1e" stroke-width="0.08" textLength="26.72" lengthAdjust="spacingAndGlyphs">C.I. = 0.001</text>
<text x="405.80" y="449.90" font-size="5.3" fill="#1e1e1e" stroke="#1e1e1e" stroke-width="0.08" textLength="32.01" lengthAdjust="spacingAndGlyphs">(0.000; 0.001)</text>
<text x="442.30" y="437.50" font-size="5.3" font-style="italic" fill="#1e1e1e" stroke="#1e1e1e" stroke-width="0.08" textLength="14.14" lengthAdjust="spacingAndGlyphs">n=285</text>
<text x="442.30" y="443.75" font-size="5.3" fill="#1e1e1e" stroke="#1e1e1e" stroke-width="0.08" textLength="26.72" lengthAdjust="spacingAndGlyphs">C.I. = 0.012</text>
<text x="442.30" y="449.90" font-size="5.3" fill="#1e1e1e" stroke="#1e1e1e" stroke-width="0.08" textLength="32.01" lengthAdjust="spacingAndGlyphs">(0.003; 0.021)</text>
<text x="481.30" y="437.50" font-size="5.3" font-style="italic" fill="#1e1e1e" stroke="#1e1e1e" stroke-width="0.08" textLength="8.54" lengthAdjust="spacingAndGlyphs">n=2</text>
<text x="481.30" y="443.75" font-size="5.3" fill="#1e1e1e" stroke="#1e1e1e" stroke-width="0.08" textLength="26.72" lengthAdjust="spacingAndGlyphs">C.I. = 0.012</text>
<text x="481.30" y="449.90" font-size="5.3" fill="#1e1e1e" stroke="#1e1e1e" stroke-width="0.08" textLength="32.01" lengthAdjust="spacingAndGlyphs">(0.012; 0.012)</text>
<text x="303.20" y="463.50" font-size="5.0" fill="#5a5a5a" stroke="#5a5a5a" stroke-width="0.12" textLength="23.50" lengthAdjust="spacingAndGlyphs">Intermediate</text>
<text x="303.20" y="469.50" font-size="5.0" fill="#5a5a5a" stroke="#5a5a5a" stroke-width="0.12" textLength="19.00" lengthAdjust="spacingAndGlyphs">risk group</text>
<text x="332.80" y="463.50" font-size="5.3" font-style="italic" fill="#1e1e1e" stroke="#1e1e1e" stroke-width="0.08" textLength="8.54" lengthAdjust="spacingAndGlyphs">n=1</text>
<text x="332.80" y="469.75" font-size="5.3" fill="#1e1e1e" stroke="#1e1e1e" stroke-width="0.08" textLength="16.72" lengthAdjust="spacingAndGlyphs">C.I. = 0</text>
<text x="332.80" y="475.90" font-size="5.3" fill="#1e1e1e" stroke="#1e1e1e" stroke-width="0.08" textLength="12.00" lengthAdjust="spacingAndGlyphs">(0; 0)</text>
<text x="369.10" y="463.50" font-size="5.3" font-style="italic" fill="#1e1e1e" stroke="#1e1e1e" stroke-width="0.08" textLength="8.54" lengthAdjust="spacingAndGlyphs">n=4</text>
<text x="369.10" y="469.75" font-size="5.3" fill="#1e1e1e" stroke="#1e1e1e" stroke-width="0.08" textLength="26.72" lengthAdjust="spacingAndGlyphs">C.I. = 0.041</text>
<text x="369.10" y="475.90" font-size="5.3" fill="#1e1e1e" stroke="#1e1e1e" stroke-width="0.08" textLength="32.01" lengthAdjust="spacingAndGlyphs">(0.007; 0.075)</text>
<text x="405.80" y="463.50" font-size="5.3" font-style="italic" fill="#1e1e1e" stroke="#1e1e1e" stroke-width="0.08" textLength="8.54" lengthAdjust="spacingAndGlyphs">n=5</text>
<text x="405.80" y="469.75" font-size="5.3" fill="#1e1e1e" stroke="#1e1e1e" stroke-width="0.08" textLength="26.72" lengthAdjust="spacingAndGlyphs">C.I. = 0.083</text>
<text x="405.80" y="475.90" font-size="5.3" fill="#1e1e1e" stroke="#1e1e1e" stroke-width="0.08" textLength="31.63" lengthAdjust="spacingAndGlyphs">(0.049; 0.117)</text>
<text x="442.30" y="463.50" font-size="5.3" font-style="italic" fill="#1e1e1e" stroke="#1e1e1e" stroke-width="0.08" textLength="11.34" lengthAdjust="spacingAndGlyphs">n=13</text>
<text x="442.30" y="469.75" font-size="5.3" fill="#1e1e1e" stroke="#1e1e1e" stroke-width="0.08" textLength="26.72" lengthAdjust="spacingAndGlyphs">C.I. = 0.083</text>
<text x="442.30" y="475.90" font-size="5.3" fill="#1e1e1e" stroke="#1e1e1e" stroke-width="0.08" textLength="32.01" lengthAdjust="spacingAndGlyphs">(0.083; 0.083)</text>
<text x="481.30" y="463.50" font-size="5.3" font-style="italic" fill="#1e1e1e" stroke="#1e1e1e" stroke-width="0.08" textLength="8.54" lengthAdjust="spacingAndGlyphs">n=0</text>
<text x="481.30" y="469.75" font-size="5.3" fill="#1e1e1e" stroke="#1e1e1e" stroke-width="0.08" textLength="26.72" lengthAdjust="spacingAndGlyphs">C.I. = 0.083</text>
<text x="481.30" y="475.90" font-size="5.3" fill="#1e1e1e" stroke="#1e1e1e" stroke-width="0.08" textLength="10.57" lengthAdjust="spacingAndGlyphs">(NA)</text>
<text x="303.20" y="489.50" font-size="5.0" fill="#5a5a5a" stroke="#5a5a5a" stroke-width="0.12" textLength="16.60" lengthAdjust="spacingAndGlyphs">High risk</text>
<text x="303.20" y="495.50" font-size="5.0" fill="#5a5a5a" stroke="#5a5a5a" stroke-width="0.12" textLength="11.20" lengthAdjust="spacingAndGlyphs">group</text>
<text x="332.80" y="489.50" font-size="5.3" font-style="italic" fill="#1e1e1e" stroke="#1e1e1e" stroke-width="0.08" textLength="8.54" lengthAdjust="spacingAndGlyphs">n=3</text>
<text x="332.80" y="495.75" font-size="5.3" fill="#1e1e1e" stroke="#1e1e1e" stroke-width="0.08" textLength="26.72" lengthAdjust="spacingAndGlyphs">C.I. = 0.136</text>
<text x="332.80" y="501.90" font-size="5.3" fill="#1e1e1e" stroke="#1e1e1e" stroke-width="0.08" textLength="32.01" lengthAdjust="spacingAndGlyphs">(0.071; 0.201)</text>
<text x="369.10" y="489.50" font-size="5.3" font-style="italic" fill="#1e1e1e" stroke="#1e1e1e" stroke-width="0.08" textLength="8.54" lengthAdjust="spacingAndGlyphs">n=2</text>
<text x="369.10" y="495.75" font-size="5.3" fill="#1e1e1e" stroke="#1e1e1e" stroke-width="0.08" textLength="26.72" lengthAdjust="spacingAndGlyphs">C.I. = 0.195</text>
<text x="369.10" y="501.90" font-size="5.3" fill="#1e1e1e" stroke="#1e1e1e" stroke-width="0.08" textLength="32.01" lengthAdjust="spacingAndGlyphs">(0.146; 0.243)</text>
<text x="405.80" y="489.50" font-size="5.3" font-style="italic" fill="#1e1e1e" stroke="#1e1e1e" stroke-width="0.08" textLength="8.54" lengthAdjust="spacingAndGlyphs">n=4</text>
<text x="405.80" y="495.75" font-size="5.3" fill="#1e1e1e" stroke="#1e1e1e" stroke-width="0.08" textLength="26.72" lengthAdjust="spacingAndGlyphs">C.I. = 0.243</text>
<text x="405.80" y="501.90" font-size="5.3" fill="#1e1e1e" stroke="#1e1e1e" stroke-width="0.08" textLength="32.01" lengthAdjust="spacingAndGlyphs">(0.203; 0.283)</text>
<text x="442.30" y="489.50" font-size="5.3" font-style="italic" fill="#1e1e1e" stroke="#1e1e1e" stroke-width="0.08" textLength="8.54" lengthAdjust="spacingAndGlyphs">n=4</text>
<text x="442.30" y="495.75" font-size="5.3" fill="#1e1e1e" stroke="#1e1e1e" stroke-width="0.08" textLength="26.72" lengthAdjust="spacingAndGlyphs">C.I. = 0.243</text>
<text x="442.30" y="501.90" font-size="5.3" fill="#1e1e1e" stroke="#1e1e1e" stroke-width="0.08" textLength="32.01" lengthAdjust="spacingAndGlyphs">(0.243; 0.243)</text>
<text x="481.30" y="489.50" font-size="5.3" font-style="italic" fill="#1e1e1e" stroke="#1e1e1e" stroke-width="0.08" textLength="8.54" lengthAdjust="spacingAndGlyphs">n=0</text>
<text x="481.30" y="495.75" font-size="5.3" fill="#1e1e1e" stroke="#1e1e1e" stroke-width="0.08" textLength="26.72" lengthAdjust="spacingAndGlyphs">C.I. = 0.243</text>
<text x="481.30" y="501.90" font-size="5.3" fill="#1e1e1e" stroke="#1e1e1e" stroke-width="0.08" textLength="10.57" lengthAdjust="spacingAndGlyphs">(NA)</text>
<path d="M0.6 0 V550" stroke="#000" stroke-width="1.6" fill="none"/><path d="M0 0.45 H520" stroke="#000" stroke-width="1.4" fill="none"/><path d="M519.0 0 V550" stroke="#000" stroke-width="2.2" fill="none"/><path d="M0 549.3 H520" stroke="#000" stroke-width="1.6" fill="none"/>
</svg>
</body></html>
